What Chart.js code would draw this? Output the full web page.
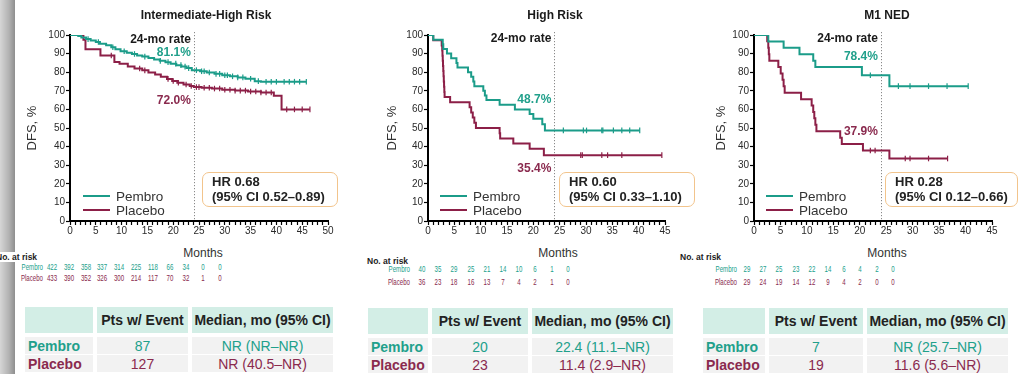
<!DOCTYPE html>
<html>
<head>
<meta charset="utf-8">
<title>DFS by risk group</title>
<script src="https://cdn.jsdelivr.net/npm/chart.js@4.4.1/dist/chart.umd.min.js"></script>
<style>
  html, body { margin: 0; padding: 0; background: #fff; }
  body { width: 1019px; height: 374px; position: relative; overflow: hidden;
         font-family: "Liberation Sans", Arial, sans-serif; color: #222; }
  .abs { position: absolute; white-space: nowrap; }
  canvas { position: absolute; top: 0; }
  #shade { position: absolute; left: 0; top: 0; width: 15px; height: 374px;
           background: linear-gradient(to right, #d6d6d6, #b2b2b2 60%, #8e8e8e); }
  .title { font-weight: bold; font-size: 12px; transform: translate(-50%, -50%); color: #1a1a1a; }
  .months { font-size: 12px; color: #333; transform: translate(-50%, -50%); }
  .legend-line { height: 2px; width: 27px; transform: translateY(-1px); }
  .legend-text { font-size: 13.5px; color: #333; transform: translateY(-50%); }
  .hr-box { border: 1.5px solid #f2c48c; border-radius: 7px; background: #fff; box-sizing: border-box;
            font-weight: bold; font-size: 13px; line-height: 15px; padding: 0.5px 0 0 9px; color: #222; }
  .risk-head { font-size: 8.5px; font-weight: bold; transform: translateY(-50%); background: #fff; color: #222; }
  .risk { font-size: 9px; transform-origin: center center; transform: translate(-50%, -50%) scaleX(0.68); }
  .risk-lab { font-size: 9px; transform-origin: right center; transform: translate(-100%, -50%) scaleX(0.68); }
  .cell { display: flex; align-items: center; justify-content: center; box-sizing: border-box; font-size: 14px; }
  .cell.lab { justify-content: flex-start; padding-left: 3px; font-weight: bold; }
  .cell.head { font-weight: bold; color: #222; }
</style>
</head>
<body>
<div id="shade"></div>
<canvas id="chart-ih" width="340" height="240" style="left:0px"></canvas>
<canvas id="chart-hr" width="340" height="240" style="left:340px"></canvas>
<canvas id="chart-m1" width="339" height="240" style="left:680px"></canvas>

<script>
const PEMBRO = '#1b9c89';
const PLACEBO = '#8c1f47';
const PEMBRO_TEXT = '#21a08b';
const PLACEBO_TEXT = '#8a2a4e';
const RATE_MONTH = 24;

// Intermediate-High Risk: [month, DFS %] after each event
const ihPembroKM = [[0,100],[1.6,99.5],[2.2,98.6],[3.1,97.8],[4,97],[5,96.2],[5.8,95.3],[7,94.5],[8,93.4],[8.8,92.3],
  [9.8,91.3],[11,90.5],[12,89.8],[13,89],[14,88.4],[15.2,87.6],[16.3,86.8],[17.4,86.1],[18.5,85.4],[19.5,84.6],
  [20.6,83.8],[21.6,83],[22.6,82.2],[23.6,81.1],[25.2,80.5],[26.5,79.8],[28,79.1],[29.5,78.4],[31,77.8],[32.5,77.2],
  [34,76.5],[35.8,75.2],[37,74.9],[45.8,74.9]];
const ihPembroCensor = [3.5,5.5,8.3,10.5,12.5,14.5,17.5,19,20.5,21.5,22.3,23,24.5,25.5,26,27,28.3,29,30,30.5,31.5,
  32.5,33.5,35,36.5,38,39,40,41.5,42.5,43.5,44.5,45.8];
const ihPlaceboKM = [[0,100],[2.6,97.5],[3,92.3],[5.9,89],[8.6,85.5],[9.6,84.5],[11.2,83],[12.5,82],[14,81],[15.2,79.8],
  [16.5,78.8],[17.6,77.6],[18.8,76.4],[19.8,75.3],[20.8,74.3],[22,73.4],[23.2,72.6],[24,72],[25.5,71.6],[27.5,71.2],
  [29.5,70.6],[32,70.1],[34.5,69.6],[37,69.1],[39.5,67.4],[41,60],[46.5,60]];
const ihPlaceboCensor = [8,13.5,14.5,19,20,21,22.5,23.5,24.5,25,26,27,28,29,30,31,32,33,34,35,36,37,38,39,42,43.5,45,46.5];
const ihRiskPembro = [422,392,358,337,314,225,118,66,34,0,0];
const ihRiskPlacebo = [433,390,352,326,300,214,117,70,32,1,0];
const ihRates = ['81.1%','72.0%'];
const ihHR = ['HR 0.68','(95% CI 0.52\u20130.89)'];
const ihEvents = ['87','127'];
const ihMedians = ['NR (NR\u2013NR)','NR (40.5\u2013NR)'];

// High Risk
const hrPembroKM = [[0,100],[1,97.5],[2.8,95],[2.9,92.5],[3.6,90],[4.4,87.5],[5.4,85],[5.6,82.5],[7.6,80],[8.2,77.5],
  [8.6,75],[8.8,72.5],[10.5,70],[10.8,67.5],[11.1,65],[13.6,62.5],[16.5,60],[19.3,57.5],[20,55],[21.7,52],[22.2,48.7],[40.2,48.7]];
const hrPembroCensor = [25.7,29.5,30.1,33,33.2,35.2,36.8,38.3,40.2];
const hrPlaceboKM = [[0,100],[1,97.2],[2.6,94.4],[2.7,91.7],[2.75,88.9],[2.8,86.1],[2.85,83.3],[2.9,80.6],[2.95,77.8],
  [3,75],[3.05,72.2],[3.1,69.4],[3.15,66.7],[4.2,63.9],[7.9,61.1],[8.2,58.3],[8.5,55.6],[8.8,52.8],[9.1,50],
  [13.6,47.2],[13.7,44.4],[16.2,41.7],[19.3,38.9],[22,35.4],[44.4,35.4]];
const hrPlaceboCensor = [29,29.3,33,34.1,36.8,44.4];
const hrRiskPembro = [40,35,29,25,21,14,10,6,1,0];
const hrRiskPlacebo = [36,23,18,16,13,7,4,2,1,0];
const hrRates = ['48.7%','35.4%'];
const hrHR = ['HR 0.60','(95% CI 0.33\u20131.10)'];
const hrEvents = ['20','23'];
const hrMedians = ['22.4 (11.1\u2013NR)','11.4 (2.9\u2013NR)'];

// M1 NED
const m1PembroKM = [[0,100],[2.7,96.5],[5.6,93.1],[8.6,89.7],[11.2,86.2],[11.6,82.8],[20.4,78.4],[25.6,72.5],[40.5,72.5]];
const m1PembroCensor = [22,27.3,29.5,33,36.5,40.5];
const m1PlaceboKM = [[0,100],[2.5,96.6],[2.7,93.1],[2.8,89.7],[2.9,86.2],[4.6,82.8],[5.05,79.3],[5.4,75.9],[5.6,72.4],
  [5.8,69],[8.9,65.5],[10.9,62.1],[11.2,58.6],[11.4,55.2],[11.6,51.7],[11.8,48.3],[16.3,44.8],[16.6,41.4],[20.6,37.9],
  [25.6,33.6],[36.6,33.6]];
const m1PlaceboCensor = [22,22.9,28.6,29.5,33,36.6];
const m1RiskPembro = [29,27,25,23,22,14,6,4,2,0];
const m1RiskPlacebo = [29,24,19,14,12,9,4,2,0,0];
const m1Rates = ['78.4%','37.9%'];
const m1HR = ['HR 0.28','(95% CI 0.12\u20130.66)'];
const m1Events = ['7','19'];
const m1Medians = ['NR (25.7\u2013NR)','11.6 (5.6\u2013NR)'];

const armNames = ['Pembro', 'Placebo'];
const tableHeads = ['', 'Pts w/ Event', 'Median, mo (95%  CI)'];

const panels = [
  { id: 'ih', title: 'Intermediate-High Risk', titleX: 206, monthsX: 203, yAxisWidth: 70, padRight: 12, xMax: 50, dfsPad: 25,
    km: [ihPembroKM, ihPlaceboKM], cens: [ihPembroCensor, ihPlaceboCensor], rates: ihRates, rateY: [40, 53, 101],
    hr: ihHR, hrBox: [202, 172, 136, 35], legendX: 83,
    risk: [ihRiskPembro, ihRiskPlacebo], riskX0: 52, riskStep: 16.8, riskLabelX: 43, riskHeadX: -4, riskY: [257, 267, 278],
    events: ihEvents, medians: ihMedians, cols: [25, 97, 192], widths: [68, 91, 141], tableTop: 307 },
  { id: 'hr', title: 'High Risk', titleX: 555, monthsX: 558, yAxisWidth: 88, padRight: 15, xMax: 45, dfsPad: 45,
    km: [hrPembroKM, hrPlaceboKM], cens: [hrPembroCensor, hrPlaceboCensor], rates: hrRates, rateY: [39, 100, 169],
    hr: hrHR, hrBox: [559, 172, 136, 35], legendX: 440,
    risk: [hrRiskPembro, hrRiskPlacebo], riskX0: 422, riskStep: 16.2, riskLabelX: 410, riskHeadX: 367, riskY: [261, 269, 282],
    events: hrEvents, medians: hrMedians, cols: [368, 432, 532], widths: [60, 96, 141], tableTop: 308 },
  { id: 'm1', title: 'M1 NED', titleX: 887, monthsX: 887, yAxisWidth: 74, padRight: 27, xMax: 45, dfsPad: 34,
    km: [m1PembroKM, m1PlaceboKM], cens: [m1PembroCensor, m1PlaceboCensor], rates: m1Rates, rateY: [39, 57, 132],
    hr: m1HR, hrBox: [885, 172, 133, 35], legendX: 766,
    risk: [m1RiskPembro, m1RiskPlacebo], riskX0: 747, riskStep: 16.2, riskLabelX: 737, riskHeadX: 680, riskY: [257, 269, 282],
    events: m1Events, medians: m1Medians, cols: [703, 769, 867], widths: [62, 94, 141], tableTop: 308 }
];

function survivalAt(steps, t) {
  let s = steps[0][1];
  steps.forEach(([x, y]) => { if (x <= t) s = y; });
  return s;
}

// dotted 24-month marker and rate labels
const rateMarks = {
  id: 'rateMarks',
  beforeDatasetsDraw(chart, args, opts) {
    const {ctx, chartArea} = chart;
    const x = Math.round(chart.scales.x.getPixelForValue(RATE_MONTH)) + 0.5;
    ctx.save();
    ctx.strokeStyle = '#8a8a8a';
    ctx.lineWidth = 1;
    ctx.setLineDash([1.2, 1.8]);
    ctx.beginPath();
    ctx.moveTo(x, chartArea.top - 3);
    ctx.lineTo(x, chartArea.bottom);
    ctx.stroke();
    ctx.restore();
  },
  afterDatasetsDraw(chart, args, opts) {
    const {ctx} = chart;
    const x = chart.scales.x.getPixelForValue(RATE_MONTH) - 3;
    ctx.save();
    ctx.textAlign = 'right';
    ctx.textBaseline = 'middle';
    ctx.font = 'bold 12px "Liberation Sans", Arial, sans-serif';
    ctx.fillStyle = '#1a1a1a';
    ctx.fillText('24-mo rate', x, opts.y[0]);
    ctx.fillStyle = PEMBRO_TEXT;
    ctx.fillText(opts.rates[0], x, opts.y[1]);
    ctx.fillStyle = PLACEBO_TEXT;
    ctx.fillText(opts.rates[1], x, opts.y[2]);
    ctx.restore();
  }
};

Chart.defaults.font.family = '"Liberation Sans", Arial, sans-serif';
Chart.defaults.font.size = 10;
Chart.defaults.color = '#2a2a2a';

function buildChart(p) {
  const colors = [PEMBRO, PLACEBO];
  const datasets = [];
  p.km.forEach((steps, i) => {
    datasets.push({
      label: armNames[i],
      data: steps.map(([x, y]) => ({x, y})),
      borderColor: colors[i],
      borderWidth: 2,
      stepped: true,
      pointRadius: 0,
      fill: false
    });
  });
  p.cens.forEach((times, i) => {
    datasets.push({
      label: armNames[i] + ' censored',
      data: times.map(t => ({x: t, y: survivalAt(p.km[i], t)})),
      showLine: false,
      pointStyle: 'line',
      pointRotation: 90,
      pointRadius: 2.8,
      pointBorderWidth: 1.2,
      pointBorderColor: colors[i],
      borderColor: colors[i]
    });
  });

  return new Chart(document.getElementById('chart-' + p.id), {
    type: 'line',
    data: { datasets },
    options: {
      responsive: false,
      animation: false,
      events: [],
      layout: { padding: { top: 35, right: p.padRight, bottom: 0, left: 0 } },
      plugins: {
        legend: { display: false },
        tooltip: { enabled: false },
        rateMarks: { rates: p.rates, y: p.rateY }
      },
      scales: {
        x: {
          type: 'linear', min: 0, max: p.xMax,
          afterFit: s => { s.height = 19; },
          border: { color: '#000', width: 2 },
          grid: { drawOnChartArea: false, tickLength: 4, tickColor: '#000', tickWidth: 1.2 },
          ticks: { stepSize: 1, autoSkip: false, maxRotation: 0, padding: 0,
                   callback: v => (v % 5 === 0 ? v : '') }
        },
        y: {
          min: 0, max: 100,
          afterFit: s => { s.width = p.yAxisWidth; },
          border: { color: '#000', width: 2 },
          grid: { drawOnChartArea: false, tickLength: 4, tickColor: '#000', tickWidth: 1.2 },
          ticks: { stepSize: 10, padding: 1 },
          title: { display: true, text: 'DFS, %', color: '#333', font: { size: 13 }, padding: { top: p.dfsPad, bottom: 0 } }
        }
      }
    },
    plugins: [rateMarks]
  });
}

function addDiv(cls, text, x, y, color) {
  const el = document.createElement('div');
  el.className = 'abs ' + cls;
  if (text !== null) el.textContent = text;
  el.style.left = x + 'px';
  el.style.top = y + 'px';
  if (color) el.style.color = color;
  document.body.appendChild(el);
  return el;
}

function addCell(x, y, w, h, bg, cls, text, color) {
  const el = addDiv('cell ' + cls, text, x, y, color);
  el.style.width = w + 'px';
  el.style.height = h + 'px';
  el.style.background = bg;
  return el;
}

function buildOverlay(p) {
  const textColors = [PEMBRO_TEXT, PLACEBO_TEXT];
  const lineColors = [PEMBRO, PLACEBO];

  addDiv('title', p.title, p.titleX, 15);
  addDiv('months', 'Months', p.monthsX, 253);

  // legend inside the plot
  [196, 210].forEach((y, i) => {
    const line = addDiv('legend-line', null, p.legendX, y);
    line.style.background = lineColors[i];
    addDiv('legend-text', armNames[i], p.legendX + 33, y);
  });

  // hazard ratio box
  const [bx, by, bw, bh] = p.hrBox;
  const box = addDiv('hr-box', null, bx, by);
  box.style.width = bw + 'px';
  box.style.height = bh + 'px';
  box.innerHTML = p.hr[0] + '<br>' + p.hr[1];

  // number at risk
  addDiv('risk-head', 'No. at risk', p.riskHeadX, p.riskY[0]);
  p.risk.forEach((row, i) => {
    const y = p.riskY[i + 1];
    addDiv('risk-lab', armNames[i], p.riskLabelX, y, textColors[i]);
    row.forEach((n, k) => addDiv('risk', String(n), p.riskX0 + k * p.riskStep, y, textColors[i]));
  });

  // events / median table
  const head = '#d3eee6', body = '#f2f2f2';
  const top = p.tableTop;
  tableHeads.forEach((h, c) => addCell(p.cols[c], top, p.widths[c], 26, head, 'head', h));
  armNames.forEach((arm, r) => {
    const y = top + 30 + r * 18;
    addCell(p.cols[0], y, p.widths[0], 17, body, 'lab', arm, textColors[r]);
    addCell(p.cols[1], y, p.widths[1], 17, body, '', p.events[r], textColors[r]);
    addCell(p.cols[2], y, p.widths[2], 17, body, '', p.medians[r], textColors[r]);
  });
}

panels.forEach(buildChart);
panels.forEach(buildOverlay);
</script>
</body>
</html>
